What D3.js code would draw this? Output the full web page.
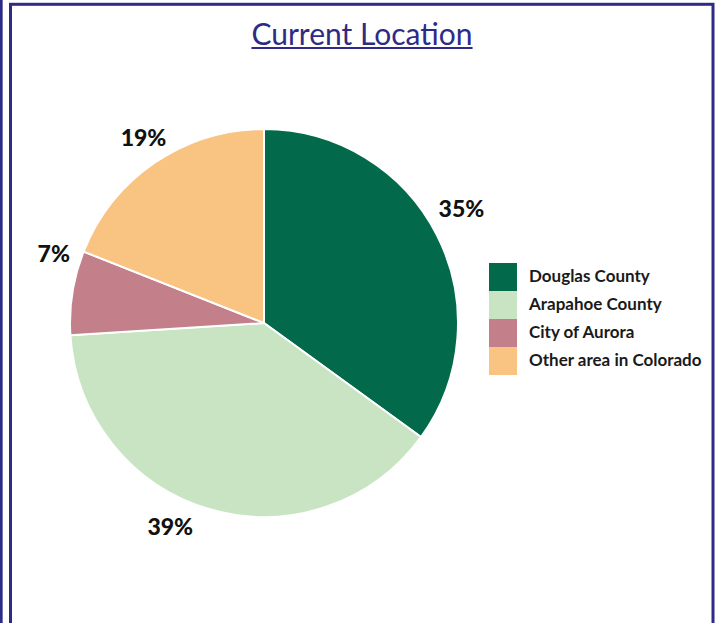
<!DOCTYPE html>
<html>
<head>
<meta charset="utf-8">
<script src="https://cdn.jsdelivr.net/npm/d3@7"></script>
<style>
  body { margin: 0; background: #fff; }
  svg { display: block; }
</style>
</head>
<body>
<div id="chart"></div>
<script>
const categories = ['Douglas County', 'Arapahoe County', 'City of Aurora', 'Other area in Colorado'];
const shares = [35, 39, 7, 19];
const colors = ['#02694a', '#c9e4c3', '#c4808a', '#f9c382'];
const title = 'Current Location';

const width = 722, height = 623;
const cx = 264, cy = 323, radius = 194;
const navy = '#2e2b86';

// hand nudges so labels sit where the original put them
const labelNudge = [[-3, -12], [-31, -12], [12, -34], [6, 1]];

const data = categories.map((c, i) => ({ name: c, value: shares[i], color: colors[i], i: i }));

const svg = d3.select('#chart')
  .append('svg')
  .attr('width', width)
  .attr('height', height);

// frame
svg.append('line')
  .attr('x1', 1.3).attr('x2', 1.3)
  .attr('y1', 0).attr('y2', height)
  .attr('stroke', navy)
  .attr('stroke-width', 2.7);

svg.append('rect')
  .attr('x', 10.5).attr('y', 4.3)
  .attr('width', 702.5).attr('height', 700)
  .attr('fill', 'none')
  .attr('stroke', navy)
  .attr('stroke-width', 3);

// title
const titleText = svg.append('text')
  .attr('x', 362).attr('y', 45)
  .attr('text-anchor', 'middle')
  .attr('font-family', 'Lato, sans-serif')
  .attr('font-size', 30)
  .attr('fill', navy)
  .text(title);

const tb = titleText.node().getBBox();
svg.append('line')
  .attr('x1', tb.x).attr('x2', tb.x + tb.width)
  .attr('y1', 48).attr('y2', 48)
  .attr('stroke', navy)
  .attr('stroke-width', 2);

// pie
const pie = d3.pie().value(d => d.value).sort(null);
const arc = d3.arc().innerRadius(0).outerRadius(radius);
const labelArc = d3.arc().innerRadius(225).outerRadius(225);

const g = svg.append('g')
  .attr('transform', 'translate(' + cx + ',' + cy + ')');

const arcs = pie(data);

g.selectAll('path')
  .data(arcs)
  .enter()
  .append('path')
    .attr('d', arc)
    .attr('fill', d => d.data.color)
    .attr('stroke', '#fff')
    .attr('stroke-width', 2);

g.selectAll('text.pct')
  .data(arcs)
  .enter()
  .append('text')
    .attr('class', 'pct')
    .attr('x', d => labelArc.centroid(d)[0] + labelNudge[d.data.i][0])
    .attr('y', d => labelArc.centroid(d)[1] + labelNudge[d.data.i][1])
    .attr('dy', '0.35em')
    .attr('text-anchor', 'middle')
    .attr('font-family', 'Lato, sans-serif')
    .attr('font-weight', 900)
    .attr('font-size', 23)
    .attr('fill', '#111')
    .text(d => d.data.value + '%');

// legend
const legend = svg.append('g')
  .attr('transform', 'translate(489,263)');

const row = d3.scaleBand()
  .domain(categories)
  .range([0, 28 * categories.length]);

const items = legend.selectAll('g')
  .data(data)
  .enter()
  .append('g')
    .attr('transform', d => 'translate(0,' + row(d.name) + ')');

items.append('rect')
  .attr('width', 28)
  .attr('height', row.bandwidth())
  .attr('fill', d => d.color);

items.append('text')
  .attr('x', 40)
  .attr('y', 19)
  .attr('font-family', 'Lato, sans-serif')
  .attr('font-weight', 700)
  .attr('font-size', 17)
  .attr('fill', '#1a1a1a')
  .text(d => d.name);
</script>
</body>
</html>
